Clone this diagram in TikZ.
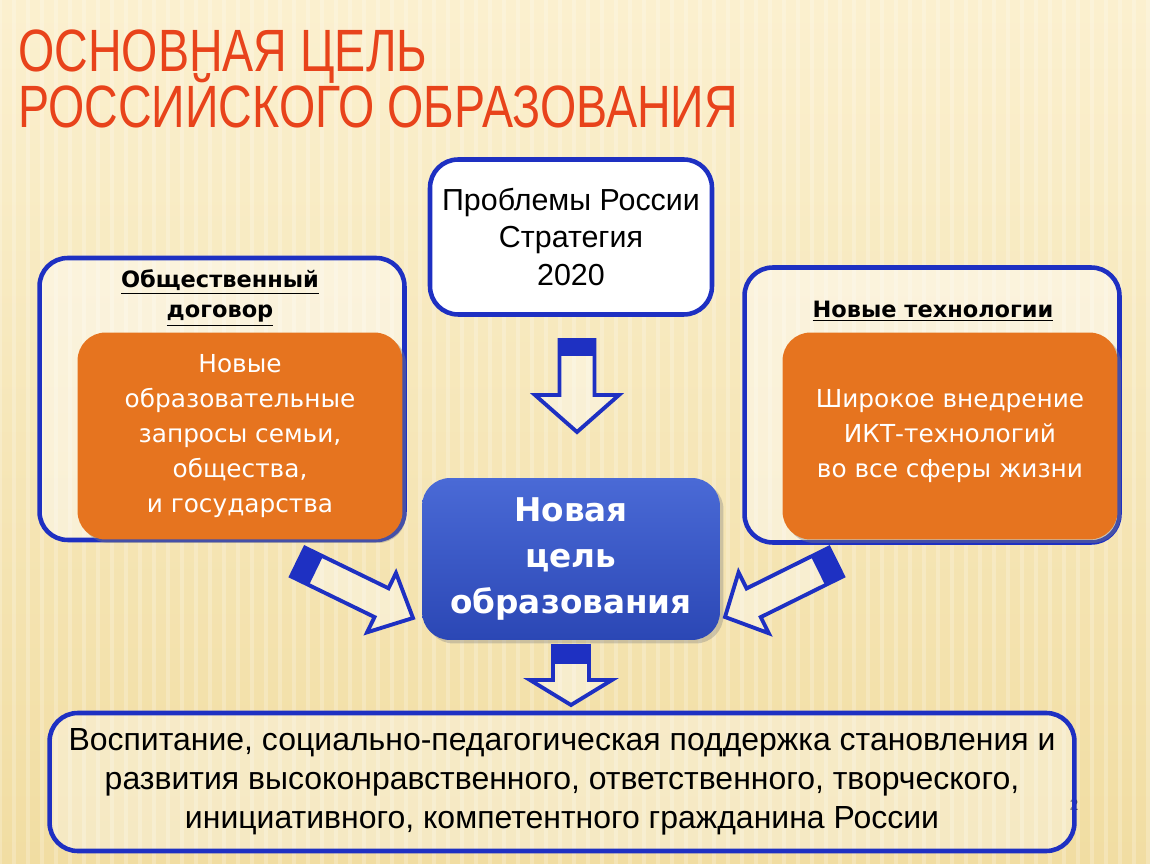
\documentclass[tikz,border=0pt]{standalone}
\usepackage{fontspec}
\setmainfont{Liberation Sans}
\newfontfamily\verdfont{DejaVu Sans}
\newfontfamily\titlefont[FakeStretch=0.78]{Liberation Sans}
\usetikzlibrary{calc,positioning,shadows}

\definecolor{bgtop}{HTML}{FBF0CF}
\definecolor{bgbot}{HTML}{F1DDA2}
\definecolor{framecol}{HTML}{1E30C2}
\definecolor{orangecol}{HTML}{E6741F}
\definecolor{goaltop}{HTML}{4A6AD6}
\definecolor{goalbot}{HTML}{2B47B5}
\definecolor{titlecol}{HTML}{E8431B}

\tikzset{
  frame/.style={draw=framecol,line width=2.6pt,rounded corners=16pt,
    fill=white,fill opacity=.45,text opacity=1},
  orangebox/.style={fill=orangecol,rounded corners=16pt,text=white,align=center,
    font=\verdfont\fontsize{14.1}{19.8}\selectfont,
    drop shadow={shadow xshift=2pt,shadow yshift=-2pt,opacity=.4}},
  heading/.style={font=\verdfont\bfseries\fontsize{12.8}{17}\selectfont,align=center},
  arrowbody/.style={draw=framecol,line width=2.2pt,line join=miter,
    fill=white,fill opacity=.4,draw opacity=1},
}

% block arrow: tail, tip, half shaft, half head, head length, band length
\newcommand{\blockarrow}[6]{%
  \coordinate (hb) at ($(#2)!#5!(#1)$);
  \coordinate (bb) at ($(#1)!#6!(#2)$);
  \filldraw[arrowbody] ($(#1)!#3!90:(#2)$) -- ($(hb)!#3!90:(#2)$)
    -- ($(hb)!#4!90:(#2)$) -- (#2) -- ($(hb)!#4!-90:(#2)$)
    -- ($(hb)!#3!-90:(#2)$) -- ($(#1)!#3!-90:(#2)$) -- cycle;
  \fill[framecol] ($(#1)!#3!90:(#2)$) -- ($(bb)!#3!90:(#2)$)
    -- ($(bb)!#3!-90:(#2)$) -- ($(#1)!#3!-90:(#2)$) -- cycle;
}

\begin{document}
\begin{tikzpicture}[x=0.02cm,y=-0.02cm]
  \useasboundingbox (0,0) rectangle (1150,864);
  \fill[top color=bgtop,bottom color=bgbot] (0,0) rectangle (1150,864);
  \foreach \x in {0,14,...,1150}
    \draw[white,opacity=.22,line width=2.5pt] (\x,0) -- (\x,864);

  % title
  \node[anchor=base west,inner sep=0pt,text=titlecol,
    font=\titlefont\fontsize{34}{34}\selectfont] (title1) at (18,72) {ОСНОВНАЯ ЦЕЛЬ};
  \node[anchor=base west,inner sep=0pt,text=titlecol,
    font=\titlefont\fontsize{34}{34}\selectfont] (title2) at (18,128) {РОССИЙСКОГО ОБРАЗОВАНИЯ};

  \node[font=\fontsize{9}{10}\selectfont,text=black!75] (pagenum) at (1074,805) {2};

  % boxes
  \node[frame,fill opacity=1,minimum width=5.64cm,minimum height=3.1cm,
    align=center,font=\fontsize{17.3}{21.5}\selectfont] (prob) at (571,237)
    {Проблемы России\\Стратегия\\2020};
  \node[frame,minimum width=7.3cm,minimum height=5.64cm] (left) at (222,399) {};
  \node[frame,minimum width=7.5cm,minimum height=5.5cm] (right) at (932,405) {};
  \node[heading] (leftHead) at (220,298)
    {\underline{Общественный}\\\underline{договор}};
  \node[heading] (rightHead) at (933,311) {\underline{Новые технологии}};
  \node[orangebox,minimum width=6.5cm,minimum height=4.14cm] (family) at (240,436)
    {Новые\\образовательные\\запросы семьи,\\общества,\\и государства};
  \node[orangebox,minimum width=6.7cm,minimum height=4.14cm] (ict) at (950,436)
    {Широкое внедрение\\ИКТ-технологий\\во все сферы жизни};

  \node[top color=goaltop,bottom color=goalbot,rounded corners=16pt,
    minimum width=5.96cm,minimum height=3.24cm,text=white,align=center,
    font=\verdfont\bfseries\fontsize{18.6}{26}\selectfont,
    drop shadow={shadow xshift=2pt,shadow yshift=-2pt,opacity=.35}] (goal) at (571,559)
    {Новая\\цель\\образования};

  \node[frame,fill opacity=.35,minimum width=20.5cm,minimum height=2.76cm,
    align=center,font=\fontsize{18.2}{22.3}\selectfont] (result) at (562,782)
    {Воспитание, социально-педагогическая поддержка становления и\\
     развития высоконравственного, ответственного, творческого,\\
     инициативного, компетентного гражданина России};

  % block arrows
  \coordinate (a1s) at (577,340);  \coordinate (a1e) at (577,432);
  \coordinate (a2s) at (571,646);  \coordinate (a2e) at (571,705);
  \coordinate (a3s) at (298,562);  \coordinate (a3e) at (413,618);
  \coordinate (a4s) at (836,562);  \coordinate (a4e) at (725,617);
  \blockarrow{a1s}{a1e}{0.35cm}{0.84cm}{0.74cm}{0.32cm}
  \blockarrow{a2s}{a2e}{0.36cm}{0.82cm}{0.5cm}{0.36cm}
  \blockarrow{a3s}{a3e}{0.32cm}{0.66cm}{0.7cm}{0.4cm}
  \blockarrow{a4s}{a4e}{0.32cm}{0.68cm}{0.64cm}{0.4cm}
\end{tikzpicture}
\end{document}
